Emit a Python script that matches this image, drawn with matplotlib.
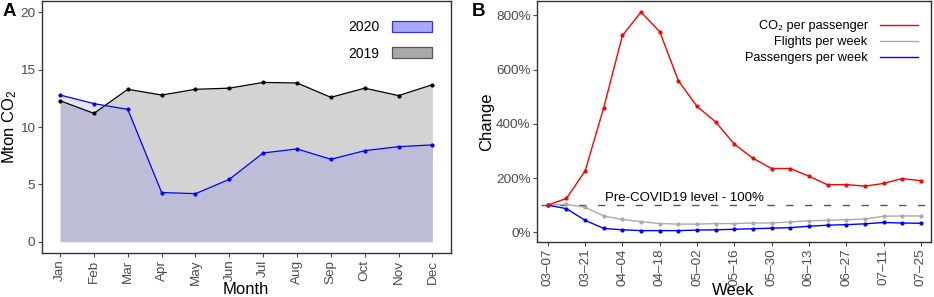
import matplotlib
matplotlib.use("Agg")
import matplotlib.pyplot as plt
from matplotlib.patches import Patch
from matplotlib.lines import Line2D
import numpy as np

plt.rcParams['font.family'] = ['Liberation Sans', 'DejaVu Sans']
plt.rcParams['mathtext.fontset'] = 'custom'
plt.rcParams['mathtext.rm'] = 'Liberation Sans'
plt.rcParams['mathtext.it'] = 'Liberation Sans'

# ---- Panel A data ----
months = ["Jan", "Feb", "Mar", "Apr", "May", "Jun", "Jul", "Aug", "Sep", "Oct", "Nov", "Dec"]
co2_2019 = [12.3, 11.2, 13.3, 12.8, 13.3, 13.4, 13.9, 13.85, 12.6, 13.4, 12.75, 13.7]
co2_2020 = [12.8, 12.05, 11.55, 4.3, 4.2, 5.45, 7.75, 8.1, 7.2, 7.95, 8.3, 8.45]

# ---- Panel B data ----
weeks = ["03-07", "03-14", "03-21", "03-28", "04-04", "04-11", "04-18", "04-25",
         "05-02", "05-09", "05-16", "05-23", "05-30", "06-06", "06-13", "06-20",
         "06-27", "07-04", "07-11", "07-18", "07-25"]
co2_per_passenger = [100, 125, 226, 460, 726, 812, 740, 559, 464, 407, 325, 273,
                     235, 235, 207, 175, 176, 170, 180, 198, 190]
flights_per_week = [100, 103, 92, 60, 47, 39, 32, 30, 30, 32, 32, 34, 34, 38, 42,
                    44, 46, 49, 59, 60, 60]
passengers_per_week = [100, 87, 44, 14, 9, 6, 6, 6, 8, 9, 11, 13, 15, 17, 22, 26,
                       28, 31, 36, 34, 33]

W, H = 934, 297
fig = plt.figure(figsize=(W / 100, H / 100), dpi=100)

def ax_rect(l, t, r, b):
    return [l / W, 1 - b / H, (r - l) / W, (b - t) / H]

def fx(px):
    return px / W

def fy(py):
    return 1 - py / H

spine_col = "#333333"
tick_col = "#4D4D4D"

def style(ax):
    for s in ax.spines.values():
        s.set_color(spine_col)
        s.set_linewidth(1.0)
    ax.tick_params(axis='both', colors=tick_col, labelcolor=tick_col, labelsize=9.7,
                   length=2.75, width=0.8, direction='out', pad=1.8)

# ---- Panel A ----
axA = fig.add_axes(ax_rect(41.5, 1, 451, 253.3))
style(axA)
x = np.arange(len(months))
axA.fill_between(x, 0, co2_2019, color="#D3D3D3", linewidth=0, zorder=1)
axA.fill_between(x, 0, co2_2020, color=(0, 0, 1, 0.1), linewidth=0, zorder=2)
axA.plot(x, co2_2019, color="black", lw=0.9, marker='o', ms=2, zorder=3)
axA.plot(x, co2_2020, color="blue", lw=0.9, marker='o', ms=2, zorder=4)
axA.set_xlim(-0.55, len(months) - 1 + 0.55)
axA.set_ylim(-1, 21)
axA.set_yticks([0, 5, 10, 15, 20])
axA.set_xticks(x)
axA.set_xticklabels(months, rotation=90, va='top', ha='center')
axA.set_xlabel("Month", fontsize=12, va='center')
axA.xaxis.set_label_coords(fx(246), fy(289.5), transform=fig.transFigure)
axA.set_ylabel("Mton CO$_2$", fontsize=12, va='center')
axA.yaxis.set_label_coords(fx(9.5), fy(127), transform=fig.transFigure)
hA = [Patch(facecolor="#A8A8FF", edgecolor="#3333EE", lw=0.9, label="2020"),
      Patch(facecolor="#A9A9A9", edgecolor="#555555", lw=0.9, label="2019")]
axA.legend(handles=hA, loc='upper right', bbox_to_anchor=(fx(432), fy(20)),
           bbox_transform=fig.transFigure, frameon=False, borderpad=0, borderaxespad=0,
           markerfirst=False, fontsize=10, handlelength=2.9, handleheight=0.85,
           handletextpad=0.9, labelspacing=0.9)
fig.text(fx(3), fy(12), "A", fontsize=13.5, fontweight='bold', va='center', ha='left')

# ---- Panel B ----
axB = fig.add_axes(ax_rect(537, 1, 930.7, 242))
style(axB)
xb = np.arange(len(weeks))
axB.axhline(100, color="#555555", lw=1.0, ls=(10.6, (5.25, 8.3)), zorder=1)
axB.plot(xb, flights_per_week, color="#AAAAAA", lw=1.0, marker='o', ms=2, zorder=2)
axB.plot(xb, passengers_per_week, color="blue", lw=1.0, marker='o', ms=2, zorder=3)
axB.plot(xb, co2_per_passenger, color="red", lw=1.0, marker='o', ms=2, zorder=4)
axB.text(7.3, 104, "Pre-COVID19 level - 100%", fontsize=9.5, ha='center', va='bottom',
         color='black')
axB.set_xlim(-0.58, len(weeks) - 1 + 0.53)
axB.set_ylim(-36, 853)
axB.set_yticks([0, 200, 400, 600, 800])
axB.set_yticklabels(["0%", "200%", "400%", "600%", "800%"])
tick_idx = xb[::2]
axB.set_xticks(tick_idx)
axB.set_xticklabels([weeks[i].replace("-", "\u2013") for i in tick_idx], rotation=90,
                    va='top', ha='center')
axB.set_xlabel("Week", fontsize=12, va='center')
axB.xaxis.set_label_coords(fx(733), fy(290.5), transform=fig.transFigure)
axB.set_ylabel("Change", fontsize=12, va='center')
axB.yaxis.set_label_coords(fx(487), fy(122), transform=fig.transFigure)
hB = [Line2D([], [], color="red", lw=1.0, label="CO\u2082 per passenger"),
      Line2D([], [], color="#AAAAAA", lw=1.0, label="Flights per week"),
      Line2D([], [], color="blue", lw=1.0, label="Passengers per week")]
axB.legend(handles=hB, loc='upper right', bbox_to_anchor=(fx(917.5), fy(20.5)),
           bbox_transform=fig.transFigure, frameon=False, borderpad=0, borderaxespad=0,
           markerfirst=False, fontsize=9.2, handlelength=2.9, handletextpad=1.0,
           labelspacing=0.3)
fig.text(fx(472), fy(12), "B", fontsize=13.5, fontweight='bold', va='center', ha='left')

fig.savefig("out.png", dpi=100)
